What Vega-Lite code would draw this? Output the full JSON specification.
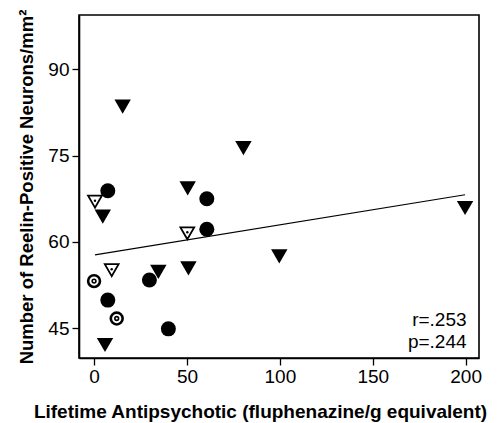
{
  "$schema": "https://vega.github.io/schema/vega-lite/v6.json",
  "width": 400,
  "height": 343,
  "autosize": "none",
  "padding": {"left": 79, "top": 15, "right": 19, "bottom": 65},
  "background": "white",
  "config": {
    "view": {"stroke": "black", "strokeWidth": 1.6},
    "font": "Liberation Sans",
    "axis": {
      "grid": false,
      "domainColor": "black",
      "domainWidth": 1.6,
      "tickColor": "black",
      "tickWidth": 1.3,
      "tickSize": 7,
      "labelColor": "black",
      "labelFont": "Liberation Sans",
      "labelFontSize": 19,
      "titleColor": "black",
      "titleFont": "Liberation Sans",
      "titleFontWeight": "bold",
      "titleFontSize": 19
    }
  },
  "datasets": {
    "pts": [
      {"drug": 15.4, "reelin": 83.5, "group": "filledTri"},
      {"drug": 80.4, "reelin": 76.3, "group": "filledTri"},
      {"drug": 50.4, "reelin": 69.3, "group": "filledTri"},
      {"drug": 4.7, "reelin": 64.4, "group": "filledTri"},
      {"drug": 199.7, "reelin": 65.9, "group": "filledTri"},
      {"drug": 99.7, "reelin": 57.5, "group": "filledTri"},
      {"drug": 34.6, "reelin": 54.8, "group": "filledTri"},
      {"drug": 50.8, "reelin": 55.4, "group": "filledTri"},
      {"drug": 5.9, "reelin": 42.1, "group": "filledTri"},
      {"drug": 7.4, "reelin": 68.9, "group": "filledCircle"},
      {"drug": 60.7, "reelin": 67.5, "group": "filledCircle"},
      {"drug": 60.7, "reelin": 62.2, "group": "filledCircle"},
      {"drug": 29.8, "reelin": 53.4, "group": "filledCircle"},
      {"drug": 7.4, "reelin": 49.9, "group": "filledCircle"},
      {"drug": 40.0, "reelin": 44.9, "group": "filledCircle"},
      {"drug": 0.5, "reelin": 67.0, "group": "openTri"},
      {"drug": 50.2, "reelin": 61.5, "group": "openTri"},
      {"drug": 9.5, "reelin": 55.1, "group": "openTri"},
      {"drug": 0.0, "reelin": 53.2, "group": "bullseye"},
      {"drug": 12.2, "reelin": 46.7, "group": "bullseye"}
    ]
  },
  "encoding": {
    "x": {
      "field": "drug", "type": "quantitative",
      "scale": {"domain": [-8.1, 207.2], "nice": false, "zero": false},
      "axis": {"values": [0, 50, 100, 150, 200], "title": "Lifetime Antipsychotic (fluphenazine/g equivalent)", "labelPadding": 2, "titlePadding": 16, "titleX": 181, "titleAlign": "center", "titleAnchor": null}
    },
    "y": {
      "field": "reelin", "type": "quantitative",
      "scale": {"domain": [39.84, 99.43], "nice": false, "zero": false},
      "axis": {"values": [45, 60, 75, 90], "title": "Number of Reelin-Positive Neurons/mm²", "labelPadding": 3, "titlePadding": 11, "titleFontSize": 18.5}
    }
  },
  "layer": [
    {
      "data": {"values": [{"drug": 0.5, "reelin": 57.75}, {"drug": 199.7, "reelin": 68.2}]},
      "mark": {"type": "line", "color": "black", "strokeWidth": 1.2}
    },
    {
      "data": {"name": "pts"},
      "transform": [{"filter": "datum.group === 'filledTri'"}],
      "mark": {"type": "point", "shape": "triangle-down", "filled": true, "color": "black", "size": 270, "opacity": 1}
    },
    {
      "data": {"name": "pts"},
      "transform": [{"filter": "datum.group === 'filledCircle'"}],
      "mark": {"type": "point", "shape": "circle", "filled": true, "color": "black", "size": 225, "opacity": 1}
    },
    {
      "data": {"name": "pts"},
      "transform": [{"filter": "datum.group === 'openTri'"}],
      "mark": {"type": "point", "shape": "triangle-down", "fill": "white", "stroke": "black", "strokeWidth": 1.8, "size": 190, "opacity": 1, "fillOpacity": 1}
    },
    {
      "data": {"name": "pts"},
      "transform": [{"filter": "datum.group === 'openTri'"}],
      "mark": {"type": "point", "shape": "circle", "filled": true, "color": "black", "size": 6, "opacity": 1, "yOffset": -1}
    },
    {
      "data": {"name": "pts"},
      "transform": [{"filter": "datum.group === 'bullseye'"}],
      "mark": {"type": "point", "shape": "circle", "fill": "white", "stroke": "black", "strokeWidth": 2.6, "size": 140, "opacity": 1, "fillOpacity": 1}
    },
    {
      "data": {"name": "pts"},
      "transform": [{"filter": "datum.group === 'bullseye'"}],
      "mark": {"type": "point", "shape": "circle", "filled": false, "stroke": "black", "strokeWidth": 1.6, "size": 14, "opacity": 1}
    },
    {
      "data": {"values": [{"drug": 200.5, "reelin": 46.4, "label": "r=.253"}, {"drug": 200.5, "reelin": 42.6, "label": "p=.244"}]},
      "mark": {"type": "text", "align": "right", "baseline": "middle", "fontSize": 19, "font": "Liberation Sans", "color": "black"},
      "encoding": {"text": {"field": "label"}}
    }
  ]
}
